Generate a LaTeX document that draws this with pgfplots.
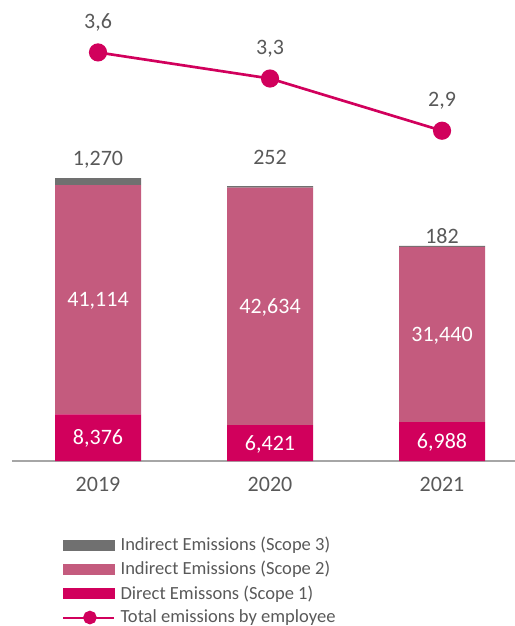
\documentclass[border=0pt]{standalone}
\usepackage{fontspec}
\setmainfont{Carlito}
\usepackage{pgfplots}
\pgfplotsset{compat=1.18}

\definecolor{scopeone}{HTML}{D1005C}
\definecolor{scopetwo}{HTML}{C45B7E}
\definecolor{scopethree}{HTML}{707070}
\definecolor{txtgray}{HTML}{595959}
\definecolor{basegray}{HTML}{A6A6A6}

\tikzset{
  lbl/.style={font=\fontsize{16.5}{18}\selectfont, text height=10.4pt, text depth=0pt, inner sep=0pt, anchor=center, text=txtgray},
  wlbl/.style={lbl, text=white},
}

\begin{document}
\begin{tikzpicture}
\path[use as bounding box] (0pt,0pt) rectangle (386.25pt,-469.5pt);

% stacked bars (tCO2e)
\begin{axis}[
  at={(9pt,-345.75pt)}, anchor=south west,
  scale only axis, width=378pt, height=334.5pt,
  xmin=-0.5, xmax=2.43, ymin=0, ymax=80000,
  axis y line=none, axis x line*=bottom,
  x axis line style={basegray, line width=1.5pt, -},
  xtick=\empty, ytick=\empty,
  ybar stacked, bar width=0.5,
  clip=false,
  after end axis/.append code={
    \node[wlbl] at (axis cs:0,4188) {8,376};
    \node[wlbl] at (axis cs:1,3210) {6,421};
    \node[wlbl] at (axis cs:2,3494) {6,988};
    \node[wlbl] at (axis cs:0,28933) {41,114};
    \node[wlbl] at (axis cs:1,27738) {42,634};
    \node[wlbl] at (axis cs:2,22708) {31,440};
  },
]
\addplot[fill=scopeone, draw=none] coordinates {(0,8376) (1,6421) (2,6988)};
\addplot[fill=scopetwo, draw=none] coordinates {(0,41114) (1,42634) (2,31440)};
\addplot[fill=scopethree, draw=none] coordinates {(0,1270) (1,252) (2,182)};

\node[lbl] at (axis cs:0,54300) {1,270};
\node[lbl] at (axis cs:1,54480) {252};
\node[lbl] at (axis cs:2,40270) {182};
\node[lbl] at (axis cs:0,-4200) {2019};
\node[lbl] at (axis cs:1,-4200) {2020};
\node[lbl] at (axis cs:2,-4200) {2021};
\end{axis}

% total emissions by employee
\begin{axis}[
  at={(9pt,-345.75pt)}, anchor=south west,
  scale only axis, width=378pt, height=340.5pt,
  xmin=-0.5, xmax=2.43, ymin=0, ymax=4,
  hide axis, clip=false,
  legend style={at={(0.0992,-0.161)}, anchor=north west, draw=none, fill=none,
    inner sep=0pt, row sep=2.6pt, column sep=2pt,
    font=\fontsize{13.9}{15}\selectfont, text=txtgray,
    cells={anchor=west}},
]
\addlegendimage{legend image code/.code={\fill[scopethree] (0pt,-3.75pt) rectangle (38.25pt,3.75pt);}}
\addlegendentry{Indirect Emissions (Scope 3)}
\addlegendimage{legend image code/.code={\fill[scopetwo] (0pt,-3.75pt) rectangle (38.25pt,3.75pt);}}
\addlegendentry{Indirect Emissions (Scope 2)}
\addlegendimage{legend image code/.code={\fill[scopeone] (0pt,-3.75pt) rectangle (38.25pt,3.75pt);}}
\addlegendentry{Direct Emissons (Scope 1)}
\addplot[scopeone, line width=2pt, mark=*, mark size=5.8pt,
  legend image code/.code={\draw[scopeone, line width=1.5pt] (0pt,0pt) -- (38.25pt,0pt);
    \fill[scopeone] (20pt,0pt) circle (4.1pt);}]
  coordinates {(0,3.6) (1,3.37) (2,2.91)};
\addlegendentry{Total emissions by employee}

\node[lbl] at (axis cs:0,3.870) {3,6};
\node[lbl] at (axis cs:1,3.643) {3,3};
\node[lbl] at (axis cs:2,3.188) {2,9};
\end{axis}
\end{tikzpicture}
\end{document}
